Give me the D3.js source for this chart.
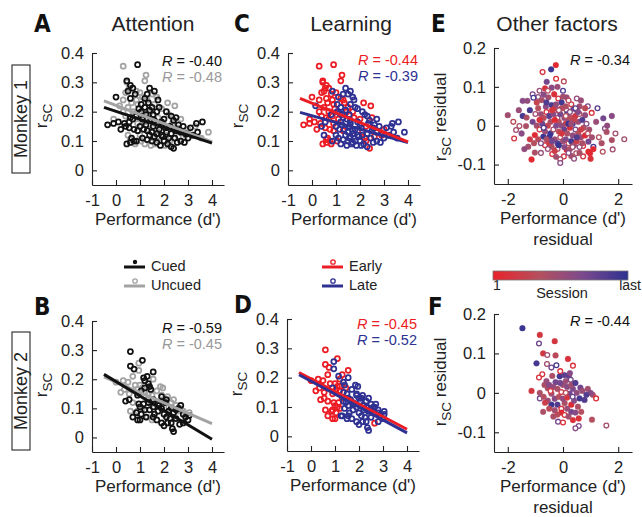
<!DOCTYPE html>
<html><head><meta charset="utf-8">
<script src="https://cdn.jsdelivr.net/npm/d3@7"></script>
<style>body{margin:0;background:#fff}</style>
</head><body>
<svg id="c" width="642" height="517"></svg>
<script>
// ---------------- DATA ----------------
// Monkey 1 sites: [d', rSC, cued(1)/uncued(0), early(0)/late(1)]
const monkey1 = [
[0.9,0.36,1,0],[0.45,0.305,1,0],[0.6,0.29,1,0],[0.7,0.28,1,0],[0.5,0.27,1,0],[0.8,0.26,1,0],[0.0,0.25,1,0],[0.6,0.245,1,0],
[1.4,0.28,1,1],[1.3,0.26,1,1],[1.2,0.245,1,0],[1.6,0.27,1,1],[1.75,0.24,1,1],[1.35,0.23,1,0],[1.05,0.225,1,1],[0.95,0.21,1,0],[1.05,0.2,1,1],[1.4,0.205,1,1],[1.8,0.215,1,1],[1.5,0.215,1,0],[1.2,0.215,1,1],[1.7,0.2,1,0],[1.25,0.19,1,1],[1.55,0.19,1,1],[2.1,0.2,1,1],[2.3,0.185,1,1],[2.5,0.18,1,0],[2.4,0.17,1,1],[2.0,0.175,1,0],[1.9,0.165,1,1],[1.6,0.17,1,1],[1.45,0.175,1,1],[1.1,0.175,1,0],[0.85,0.185,1,0],[0.7,0.175,1,0],[0.55,0.165,1,1],[0.35,0.16,1,0],[0.1,0.165,1,0],[-0.1,0.16,1,0],[-0.35,0.155,1,0],[0.6,0.18,1,0],
[1.0,0.15,1,1],[1.25,0.155,1,1],[1.55,0.15,1,1],[1.8,0.14,1,1],[2.05,0.145,1,1],[2.25,0.15,1,0],[2.6,0.155,1,1],[2.8,0.15,1,1],[3.1,0.145,1,1],[3.35,0.16,1,1],[3.6,0.165,1,1],[3.4,0.13,1,1],[3.0,0.11,1,1],[2.9,0.125,1,0],[2.7,0.13,1,1],[2.5,0.135,1,1],[2.3,0.125,1,1],[2.1,0.13,1,0],[1.9,0.12,1,1],[1.7,0.125,1,1],[1.5,0.13,1,1],[1.3,0.135,1,0],[1.15,0.14,1,1],[0.9,0.135,1,0],[0.75,0.14,1,0],[0.55,0.145,1,0],[0.4,0.15,1,1],[0.2,0.14,1,0],
[0.45,0.09,1,0],[0.6,0.095,1,0],[0.75,0.1,1,0],[0.65,0.11,1,0],[0.85,0.1,1,1],[1.1,0.11,1,1],[1.3,0.105,1,1],[1.5,0.1,1,1],[1.7,0.095,1,1],[1.85,0.085,1,1],[2.0,0.1,1,1],[2.15,0.09,1,1],[2.3,0.08,1,1],[2.4,0.075,1,0],[2.55,0.095,1,1],[2.7,0.1,1,1],[2.2,0.11,1,0],[1.95,0.115,1,1],[1.6,0.115,1,1],[1.4,0.12,1,1],[2.45,0.11,1,1],[2.85,0.095,1,1],[3.2,0.12,1,1],
[0.3,0.355,0,0],[1.25,0.325,0,0],[1.2,0.305,0,0],[0.45,0.3,0,0],[0.55,0.28,0,0],[0.4,0.265,0,0],[0.85,0.27,0,1],[1.0,0.265,0,0],[1.5,0.26,0,1],[1.7,0.25,0,1],[2.15,0.23,0,0],[2.45,0.22,0,0],[0.3,0.24,0,0],[0.65,0.23,0,0],[0.85,0.24,0,0],[1.1,0.25,0,1],[1.3,0.24,0,0],[0.15,0.22,0,1],[0.5,0.215,0,0],[0.9,0.225,0,0],[1.6,0.225,0,1],[1.9,0.21,0,1],[0.3,0.2,0,0],[0.7,0.2,0,0],[1.15,0.195,0,1],[1.45,0.2,0,0],[2.2,0.19,0,1],[2.7,0.175,0,1],[-0.1,0.175,0,0],[0.4,0.185,0,0],[0.8,0.19,0,1],[1.3,0.18,0,1],[1.75,0.18,0,0],[2.35,0.16,0,1],[3.0,0.14,0,0],[3.3,0.15,0,1],[3.85,0.13,0,1],[3.55,0.11,0,1],[2.55,0.145,0,1],[2.0,0.155,0,1],[1.6,0.16,0,1],[1.2,0.165,0,1],[0.9,0.16,0,0],[0.5,0.12,0,1],[0.6,0.105,0,0],[0.8,0.09,0,0],[1.05,0.1,0,0],[1.2,0.09,0,1],[1.45,0.085,0,1],[1.65,0.09,0,1],[1.8,0.1,0,1],[2.05,0.085,0,1],[2.25,0.1,0,0],[2.6,0.115,0,0],[1.35,0.14,0,1],[1.7,0.135,0,1],[2.1,0.12,0,1],[1.0,0.12,0,1],[1.55,0.11,0,1],[2.9,0.12,0,0]
];
// Monkey 2 sites
const monkey2 = [
[0.6,0.295,1,0],[1.1,0.265,1,0],[0.6,0.245,1,0],[0.75,0.235,1,0],[1.55,0.225,1,0],[1.15,0.205,1,1],[1.3,0.21,1,0],[1.2,0.195,1,0],[1.35,0.185,1,1],[1.4,0.175,1,1],[1.45,0.165,1,0],[1.2,0.17,1,0],[1.05,0.16,1,0],[0.55,0.13,1,0],[0.4,0.125,1,0],[0.9,0.145,1,0],[0.95,0.115,1,0],[1.15,0.115,1,0],[1.0,0.105,1,0],[1.35,0.12,1,1],[1.55,0.13,1,1],[1.9,0.14,1,1],[2.1,0.13,1,1],[1.75,0.115,1,1],[1.55,0.105,1,1],[1.4,0.095,1,1],[1.2,0.095,1,0],[1.05,0.08,1,0],[0.85,0.085,1,0],[0.7,0.07,1,0],[0.9,0.06,1,0],
[1.6,0.08,1,1],[1.75,0.09,1,1],[1.9,0.1,1,1],[2.0,0.08,1,1],[2.1,0.07,1,1],[2.2,0.09,1,1],[2.3,0.1,1,1],[2.4,0.085,1,1],[2.5,0.095,1,1],[2.6,0.1,1,1],[2.7,0.11,1,1],[2.8,0.08,1,1],[2.9,0.07,1,1],[3.0,0.06,1,1],[3.05,0.075,1,1],[2.5,0.065,1,1],[2.3,0.05,1,1],[2.35,0.03,1,1],[2.4,0.02,1,1],[2.0,0.04,1,1],[1.9,0.05,1,1],[2.15,0.05,1,1],[1.7,0.06,1,1],[1.55,0.07,1,1],[2.65,0.045,1,0],[2.25,0.065,1,1],[1.8,0.11,1,1],[2.05,0.12,1,1],[2.8,0.05,1,1],[1.0,0.06,1,0],[1.25,0.07,1,1],
[0.3,0.195,0,0],[0.7,0.21,0,0],[0.95,0.255,0,1],[0.95,0.23,0,1],[1.55,0.2,0,1],[0.2,0.155,0,0],[0.5,0.19,0,0],[0.35,0.165,0,0],[0.8,0.18,0,0],[0.9,0.165,0,1],[1.0,0.18,0,0],[1.1,0.17,0,0],[1.2,0.155,0,0],[1.35,0.15,0,1],[1.5,0.145,0,1],[1.7,0.16,0,1],[1.85,0.175,0,1],[1.95,0.17,0,1],[2.0,0.13,0,1],[2.15,0.14,0,1],[2.3,0.12,0,1],[2.5,0.11,0,1],[2.65,0.1,0,1],[2.8,0.09,0,1],[3.05,0.085,0,1],[2.4,0.13,0,1],[1.9,0.145,0,1],[1.65,0.125,0,1],[1.3,0.13,0,0],[0.7,0.12,0,0],[0.6,0.09,0,0],[0.9,0.09,0,0],[1.1,0.1,0,0],[1.5,0.06,0,1],[1.3,0.07,0,1],[1.75,0.11,0,1],[2.2,0.105,0,1],[0.55,0.15,0,0],[1.45,0.115,0,1],[2.55,0.09,0,1],[0.0,0.19,0,0]
];
// Residuals: [d' residual, rSC residual, session fraction (0 first .. 1 last), filled(1)/open(0)]
const residual1 = [
[-0.26,0.156,0.05,1],[-0.43,0.145,0.95,1],[-0.74,0.138,0.1,0],[-0.25,0.121,0.1,0],[0.03,0.114,0.3,0],[-0.59,0.113,0.7,1],[-0.41,0.098,0.6,1],[-0.65,0.096,0.1,1],[0.0,0.09,0.85,0],[-0.32,0.081,0.1,1],[-0.9,0.074,0.6,0],[-1.1,0.081,0.65,0],[-1.46,0.064,0.6,1],[-1.29,0.064,0.55,1],[-1.07,0.072,0.9,0],[-0.77,0.066,0.4,1],[-0.53,0.073,0.45,1],[-0.17,0.07,0.1,0],[0.13,0.073,0.5,1],[0.5,0.07,0.55,0],[-0.41,0.053,0.9,1],[-0.62,0.049,0.6,1],[-1.2,0.04,0.9,1],[-1.46,0.025,0.9,1],[-1.32,0.021,0.4,1],[-2.0,0.027,0.45,1],[-0.17,0.04,0.05,1],[0.13,0.04,0.4,0],[0.38,0.044,0.75,1],[0.5,0.04,0.65,1],[0.8,0.027,0.55,1],[1.04,0.033,0.1,0],[1.46,0.019,0.7,1],[1.77,0.025,0.6,1],[1.52,-0.007,0.6,0],[1.58,-0.016,0.4,1],[1.77,-0.037,0.4,1],[1.8,-0.061,0.45,0],[2.22,-0.035,0.45,0],[1.44,-0.067,0.35,0],[1.1,-0.054,0.9,0],[0.92,-0.067,0.05,1],[0.98,-0.071,0.05,1],[1.1,-0.06,0.05,1],[0.73,-0.052,0.1,0],[0.92,-0.041,0.7,1],[0.73,-0.079,0.15,0],[0.48,-0.071,0.4,0],[0.3,-0.078,0.4,1],[0.03,-0.079,0.15,0],[-0.1,-0.086,0.4,0],[-0.1,-0.096,0.6,0],[-0.39,-0.073,0.1,0],[-1.14,-0.087,0.05,1],[-1.02,-0.069,0.4,1],[-1.26,-0.054,0.45,1],[-1.77,-0.033,0.15,0],[-1.7,-0.011,0.45,0],[-1.58,-0.001,0.4,0],[-1.34,-0.001,0.4,1],[-1.02,-0.024,0.05,1],[-0.71,-0.028,0.95,1],[-0.49,-0.028,0.9,1],[-0.65,-0.05,0.1,0],[-0.41,-0.054,0.4,1],[0.13,-0.062,0.05,1],
[-0.9,0.045,0.35,1],[-0.8,0.03,0.5,1],[-0.7,0.02,0.3,1],[-0.6,0.035,0.1,0],[-0.5,0.025,0.8,1],[-0.45,0.01,0.4,1],[-0.35,0.03,0.6,1],[-0.3,0.045,0.2,1],[-0.2,0.02,0.5,0],[-0.15,0.01,0.35,1],[-0.1,0.03,0.7,1],[-0.05,0.045,0.3,1],[0.05,0.02,0.55,1],[0.1,0.005,0.2,1],[0.15,0.03,0.85,1],[0.2,0.015,0.45,1],[0.25,0.035,0.6,0],[0.3,0.02,0.3,1],[0.35,0.005,0.9,1],[0.45,0.025,0.15,1],[0.55,0.01,0.5,1],[0.6,0.03,0.4,0],[0.7,0.015,0.85,1],[0.75,-0.005,0.35,1],[0.85,0.005,0.6,0],[0.95,-0.01,0.45,1],
[-0.95,0.0,0.45,1],[-0.85,-0.01,0.2,0],[-0.75,0.005,0.7,1],[-0.65,-0.015,0.5,1],[-0.55,0.0,0.25,1],[-0.45,-0.02,0.95,1],[-0.35,-0.01,0.4,0],[-0.25,0.0,0.65,1],[-0.15,-0.015,0.3,1],[-0.05,0.0,0.55,1],[0.05,-0.01,0.75,1],[0.15,-0.02,0.4,1],[0.25,-0.005,0.1,1],[0.35,-0.025,0.55,1],[0.45,-0.01,0.7,0],[0.55,-0.02,0.35,1],[0.65,-0.03,0.5,1],[0.8,-0.025,0.05,1],[0.9,-0.02,0.3,0],
[-0.9,-0.035,0.3,1],[-0.8,-0.045,0.6,0],[-0.6,-0.035,0.4,1],[-0.5,-0.045,0.2,1],[-0.3,-0.035,0.5,1],[-0.2,-0.045,0.8,1],[-0.1,-0.03,0.35,0],[0.0,-0.04,0.45,1],[0.1,-0.035,0.65,1],[0.2,-0.045,0.3,0],[0.3,-0.04,0.9,1],[0.4,-0.05,0.45,1],[0.5,-0.04,0.2,1],[0.6,-0.055,0.55,0],[0.7,-0.045,0.4,1],
[-0.2,-0.06,0.4,0],[0.05,-0.055,0.6,1],[0.25,-0.06,0.35,1],[-0.55,-0.06,0.5,0],[-0.05,0.06,0.9,1],[0.1,0.05,0.4,1],[0.3,0.055,0.2,0],[-0.25,0.055,0.55,1],[-0.4,0.04,0.15,1],[0.6,0.05,0.45,1],[0.45,0.045,0.8,0],[-0.7,-0.005,0.85,0],[0.2,0.005,0.95,1],[-0.3,0.015,0.05,1],[0.4,0.015,0.25,1],[-0.05,-0.02,0.15,1],[0.55,0.035,0.6,1],[-0.15,0.04,0.45,0],[0.35,-0.055,0.5,0],
[-1.6,0.04,0.5,1],[-1.8,0.01,0.3,0],[-1.5,-0.02,0.6,1],[-1.2,-0.035,0.2,1],[-1.1,0.01,0.7,1],[-1.0,0.03,0.45,0],[-0.95,0.06,0.25,1],[-0.85,0.09,0.5,0],[-0.7,0.08,0.6,1],[-0.55,0.09,0.35,0],[-0.2,0.1,0.5,1],[0.2,0.065,0.3,0],[0.65,0.065,0.5,1],[0.9,0.05,0.65,0],[1.2,0.01,0.5,1],[1.3,-0.03,0.35,0],[1.25,0.045,0.8,0],[1.6,0.0,0.55,1],[1.9,-0.02,0.45,0],[1.4,-0.045,0.4,1],[1.0,-0.085,0.1,1],[0.6,-0.07,0.4,1],[0.2,-0.07,0.6,0],[-0.3,-0.065,0.2,1],[-0.8,-0.07,0.5,0],[-1.4,-0.06,0.55,1],[-0.25,-0.08,0.45,1],[0.4,-0.085,0.55,0],[-0.6,0.06,0.85,1],[0.0,0.075,0.45,1],[0.8,0.045,0.3,1],[-0.15,-0.05,0.95,1],[0.5,-0.03,0.85,1],[-0.4,-0.04,0.7,1],[0.1,0.025,0.35,0],[-0.85,0.015,0.1,1],[0.65,-0.01,0.2,1],[1.05,-0.03,0.45,1],[-1.05,-0.045,0.35,1],[0.3,0.005,0.5,1]
];
const residual2 = [
[-1.47,0.164,0.95,1],[-0.84,0.147,0.15,1],[-0.87,0.125,0.75,0],[-0.3,0.131,0.15,1],[-0.72,0.1,0.15,1],[-0.57,0.096,0.45,0],[-0.27,0.095,0.3,1],[0.18,0.086,0.1,1],[-0.96,0.075,0.9,1],[-0.58,0.073,0.45,0],[-0.42,0.064,0.7,0],[-0.24,0.07,0.9,0],[0.36,0.069,0.1,0],[-0.75,0.047,0.15,0],[-0.87,0.039,0.1,0],[-0.39,0.043,0.4,1],[-0.12,0.042,0.9,1],[0.21,0.043,0.8,1],[0.28,0.033,0.7,0],[-0.27,0.027,0.7,1],[-0.67,0.02,0.4,1],[-0.55,0.012,0.4,1],[0.0,0.02,0.45,1],[0.63,0.013,0.7,1],[0.36,0.01,0.65,1],[1.08,-0.005,0.4,1],[1.2,-0.014,0.1,0],[-1.14,0.005,0.15,1],[-0.84,0.0,0.4,1],[-0.84,-0.014,0.7,0],[-0.42,-0.002,0.45,1],[-0.06,0.002,0.1,0],[0.24,-0.002,0.7,1],[0.6,-0.014,0.9,1],[0.78,-0.018,0.85,1],[-0.42,-0.03,0.95,1],[-0.2,-0.03,0.85,1],[-0.06,-0.04,0.15,0],[0.06,-0.026,0.4,1],[0.3,-0.03,0.05,1],[0.54,-0.035,0.4,1],[-0.72,-0.048,0.4,1],[-0.3,-0.044,0.45,1],[-0.06,-0.05,0.05,1],[0.06,-0.056,0.1,0],[0.3,-0.048,0.7,1],[0.66,-0.048,0.35,1],[1.05,-0.068,0.35,1],[-0.18,-0.073,0.7,0],[0.0,-0.075,0.1,0],[0.36,-0.069,0.1,1],[0.57,-0.065,0.1,1],[0.57,-0.084,0.65,0],[1.57,-0.083,0.45,0],[0.45,-0.09,0.6,0],
[-0.6,0.03,0.5,1],[-0.5,0.02,0.6,1],[-0.35,0.015,0.55,1],[-0.2,0.01,0.4,1],[-0.1,0.025,0.7,1],[0.1,0.03,0.5,1],[0.15,0.015,0.6,1],[0.3,0.02,0.45,1],[0.45,0.025,0.85,1],[0.5,0.0,0.55,1],[0.7,0.005,0.5,1],[0.9,0.01,0.45,1],[1.0,0.0,0.6,1],[0.85,-0.005,0.85,1],[-0.7,-0.01,0.35,1],[-0.55,-0.02,0.5,1],[-0.3,-0.015,0.6,1],[-0.15,-0.01,0.35,1],[0.0,-0.015,0.55,1],[0.15,-0.012,0.15,1],[0.4,-0.02,0.6,1],[-0.5,-0.04,0.3,1],[-0.2,-0.055,0.3,1],[0.15,-0.04,0.5,1],[0.45,-0.05,0.6,1],[-0.45,0.005,0.15,0],[0.1,0.0,0.3,0],[-0.65,-0.025,0.2,1],[0.25,0.05,0.6,1],[0.05,0.045,0.8,1],[-0.1,0.055,0.1,0],[0.35,-0.01,0.75,0],[0.2,-0.06,0.45,1],[-0.35,-0.06,0.4,1]
];
// Regression fits: [intercept, slope]
const fitA = {cued:[0.201,-0.0271], uncued:[0.2214,-0.0311]};
const fitB = {cued:[0.192,-0.0495], uncued:[0.190,-0.0356]};
const fitC = {early:[0.229,-0.0330], late:[0.186,-0.0228]};
const fitD = {early:[0.196,-0.0430], late:[0.188,-0.0440]};
const rValues = {A:["-0.40","-0.48"], B:["-0.59","-0.45"], C:["-0.44","-0.39"], D:["-0.45","-0.52"], E:["-0.34"], F:["-0.44"]};
const perfTicks = [-1,0,1,2,3,4];
const rscTicks = [0,0.1,0.2,0.3,0.4];
const residXTicks = [-2,0,2];
const residYTicks = [-0.1,0,0.1,0.2];
const titles = ["Attention","Learning","Other factors"];
const legendAttention = ["Cued","Uncued"];
const legendLearning = ["Early","Late"];
const sessionLabels = ["1","Session","last"];

// ---------------- DRAWING ----------------
const FONT = "'Liberation Sans', Arial, Helvetica, sans-serif";
const BOLDFONT = "'Liberation Sans Narrow', 'DejaVu Sans Condensed', 'Liberation Sans', Arial, sans-serif";
const RED = "#ec1c24", BLUE = "#2e3192", GRAY = "#a3a3a3", BLACK = "#111";
const AX = "#222";
const svg = d3.select("#c");
svg.append("rect").attr("width",642).attr("height",517).attr("fill","#fff");

const sessionColor = d3.scaleLinear().domain([0,0.35,0.65,1])
  .range(["#e8232b","#b4505f","#7f4a8c","#2e3192"]).interpolate(d3.interpolateRgb);

function makeScales(x0,x1,yBot,yTop,xd,yd){
  return {x:d3.scaleLinear().domain(xd).range([x0,x1]),
          y:d3.scaleLinear().domain(yd).range([yBot,yTop])};
}
function drawAxes(s, xt, yt){
  const g = svg.append("g");
  const xa = d3.axisBottom(s.x).tickValues(xt).tickFormat(d=>String(d)).tickSizeInner(-5).tickSizeOuter(0).tickPadding(9);
  const ya = d3.axisLeft(s.y).tickValues(yt).tickFormat(d=>String(d)).tickSizeInner(-5).tickSizeOuter(0).tickPadding(8);
  const gx = g.append("g").attr("transform",`translate(0,${s.y.range()[0]})`).call(xa);
  const gy = g.append("g").attr("transform",`translate(${s.x.range()[0]},0)`).call(ya);
  [gx,gy].forEach(a=>{
    a.selectAll("path,line").attr("stroke",AX).attr("stroke-width",1.1);
    a.selectAll("text").attr("font-family",FONT).attr("font-size",16.5).attr("fill","#222");
  });
}
function xLabel(s, lines){
  const cx = (s.x.range()[0]+s.x.range()[1])/2;
  lines.forEach((t,i)=>{
    svg.append("text").attr("x",cx).attr("y",s.y.range()[0]+40+i*21).attr("text-anchor","middle")
      .attr("font-family",FONT).attr("font-size",17).attr("fill","#222").text(t);
  });
}
function yLabel(x, cy, extra){
  const t = svg.append("text").attr("transform",`translate(${x},${cy}) rotate(-90)`).attr("text-anchor","middle")
    .attr("font-family",FONT).attr("font-size",17).attr("fill","#222");
  t.append("tspan").text("r");
  t.append("tspan").attr("font-size",13.5).attr("dy",5).text("SC");
  if(extra){ t.append("tspan").attr("dy",-5).text(" "+extra); }
}
function rText(s, vals, colors, yb){
  vals.forEach((v,i)=>{
    const t = svg.append("text").attr("x",s.x.range()[1]-2).attr("y",yb+i*15.5).attr("text-anchor","end")
      .attr("font-family",FONT).attr("font-size",14.5).attr("fill",colors[i]);
    t.append("tspan").attr("font-style","italic").text("R");
    t.append("tspan").text(" = "+v);
  });
}
function dots(s, data, color){
  svg.append("g").selectAll("circle").data(data).join("circle")
    .attr("cx",d=>s.x(d[0])).attr("cy",d=>s.y(d[1])).attr("r",2.5)
    .attr("fill","none").attr("stroke",color).attr("stroke-width",1.75);
}
function fitLine(s, f, color){
  const xs=[-0.5,4];
  svg.append("line").attr("x1",s.x(xs[0])).attr("y1",s.y(f[0]+f[1]*xs[0]))
    .attr("x2",s.x(xs[1])).attr("y2",s.y(f[0]+f[1]*xs[1]))
    .attr("stroke",color).attr("stroke-width",3);
}
function resid(s, data){
  svg.append("g").selectAll("circle").data(data).join("circle")
    .attr("cx",d=>s.x(d[0])).attr("cy",d=>s.y(d[1])).attr("r",d=>d[3]?2.9:2.4)
    .attr("fill",d=>d[3]?sessionColor(d[2]):"#fff")
    .attr("stroke",d=>sessionColor(d[2])).attr("stroke-width",d=>d[3]?0.3:1.3);
}
function letter(t,x,y){
  svg.append("text").attr("x",x).attr("y",y).attr("font-family",BOLDFONT).attr("font-weight","bold")
    .attr("font-size",24).attr("fill","#111").text(t);
}

const perfDom=[-1,4.5], rscDom=[-0.05,0.4], resDomX=[-2.5,2.5], resDomY=[-0.15,0.2];
const sA = makeScales(92,224,185,53,perfDom,rscDom);
const sC = makeScales(288,420,185,53,perfDom,rscDom);
const sE = makeScales(494,632,184,48,resDomX,resDomY);
const sB = makeScales(92,224,452,321,perfDom,rscDom);
const sD = makeScales(287,419,451,319,perfDom,rscDom);
const sF = makeScales(494,632,452,314,resDomX,resDomY);

// Panel A
drawAxes(sA, perfTicks, rscTicks);
dots(sA, monkey1.filter(d=>d[2]===0), GRAY);
dots(sA, monkey1.filter(d=>d[2]===1), BLACK);
fitLine(sA, fitA.uncued, GRAY);
fitLine(sA, fitA.cued, BLACK);
rText(sA, rValues.A, ["#111","#999"], 66);
// Panel B
drawAxes(sB, perfTicks, rscTicks);
dots(sB, monkey2.filter(d=>d[2]===0), GRAY);
dots(sB, monkey2.filter(d=>d[2]===1), BLACK);
fitLine(sB, fitB.uncued, GRAY);
fitLine(sB, fitB.cued, BLACK);
rText(sB, rValues.B, ["#111","#999"], 333);
// Panel C
drawAxes(sC, perfTicks, rscTicks);
dots(sC, monkey1.filter(d=>d[3]===0), RED);
dots(sC, monkey1.filter(d=>d[3]===1), BLUE);
fitLine(sC, fitC.late, BLUE);
fitLine(sC, fitC.early, RED);
rText(sC, rValues.C, [RED,BLUE], 65);
// Panel D
drawAxes(sD, perfTicks, rscTicks);
dots(sD, monkey2.filter(d=>d[3]===0), RED);
dots(sD, monkey2.filter(d=>d[3]===1), BLUE);
fitLine(sD, fitD.early, RED);
fitLine(sD, fitD.late, BLUE);
rText(sD, rValues.D, [RED,BLUE], 329);
// Panel E, F
drawAxes(sE, residXTicks, residYTicks);
resid(sE, residual1);
rText(sE, rValues.E, ["#111"], 65);
drawAxes(sF, residXTicks, residYTicks);
resid(sF, residual2);
rText(sF, rValues.F, ["#111"], 326);

// Axis labels
[sA,sC,sB,sD].forEach(s=>xLabel(s,["Performance (d')"]));
[sE,sF].forEach(s=>xLabel(s,["Performance (d')","residual"]));
yLabel(47,116); yLabel(243,116); yLabel(47,385); yLabel(242,384);
yLabel(446,117,"residual"); yLabel(446,382,"residual");

// Titles & letters
[[titles[0],153],[titles[1],351],[titles[2],557]].forEach(([t,x])=>{
  svg.append("text").attr("x",x).attr("y",31).attr("text-anchor","middle")
    .attr("font-family",FONT).attr("font-size",21).attr("fill","#222").text(t);
});
letter("A",34,32); letter("C",234,32); letter("E",431,32);
letter("B",34,315); letter("D",234,313); letter("F",428,315);

// Monkey boxes
[["Monkey 1",65,108],["Monkey 2",332,118]].forEach(([t,y,h])=>{
  svg.append("rect").attr("x",12).attr("y",y).attr("width",18).attr("height",h)
    .attr("fill","none").attr("stroke","#111").attr("stroke-width",1);
  svg.append("text").attr("transform",`translate(26.5,${y+h/2}) rotate(-90)`).attr("text-anchor","middle")
    .attr("font-family",FONT).attr("font-size",18).attr("fill","#222").text(t);
});

// Legends
function legend(x, labels, colors, filledFirst){
  labels.forEach((lab,i)=>{
    const y = 267 + i*19;
    svg.append("line").attr("x1",x).attr("x2",x+21).attr("y1",y).attr("y2",y)
      .attr("stroke",colors[i]).attr("stroke-width",3);
    const c = svg.append("circle").attr("cx",x+11).attr("cy",y-5).attr("r",2.2);
    if(filledFirst && i===0) c.attr("fill",colors[i]);
    else c.attr("fill","none").attr("stroke",colors[i]).attr("stroke-width",1.3);
    svg.append("text").attr("x",x+27).attr("y",y+4).attr("font-family",FONT).attr("font-size",14.5)
      .attr("fill","#222").text(lab);
  });
}
legend(124, legendAttention, [BLACK,GRAY], true);
legend(322, legendLearning, [RED,BLUE], false);

// Session colour bar
const defs = svg.append("defs");
const grad = defs.append("linearGradient").attr("id","sess");
d3.range(0,1.0001,0.05).forEach(t=>grad.append("stop").attr("offset",t).attr("stop-color",sessionColor(t)));
svg.append("text").attr("x",493).attr("y",290).attr("font-family",FONT).attr("font-size",14).attr("fill","#222").text(sessionLabels[0]);
svg.append("text").attr("x",641).attr("y",290).attr("text-anchor","end").attr("font-family",FONT).attr("font-size",14).attr("fill","#222").text(sessionLabels[2]);
svg.append("rect").attr("x",493).attr("y",271).attr("width",135).attr("height",9)
  .attr("fill","url(#sess)").attr("stroke","#777").attr("stroke-width",0.8);
svg.append("text").attr("x",562).attr("y",298).attr("text-anchor","middle").attr("font-family",FONT)
  .attr("font-size",14.5).attr("fill","#222").text(sessionLabels[1]);
</script>
</body></html>
